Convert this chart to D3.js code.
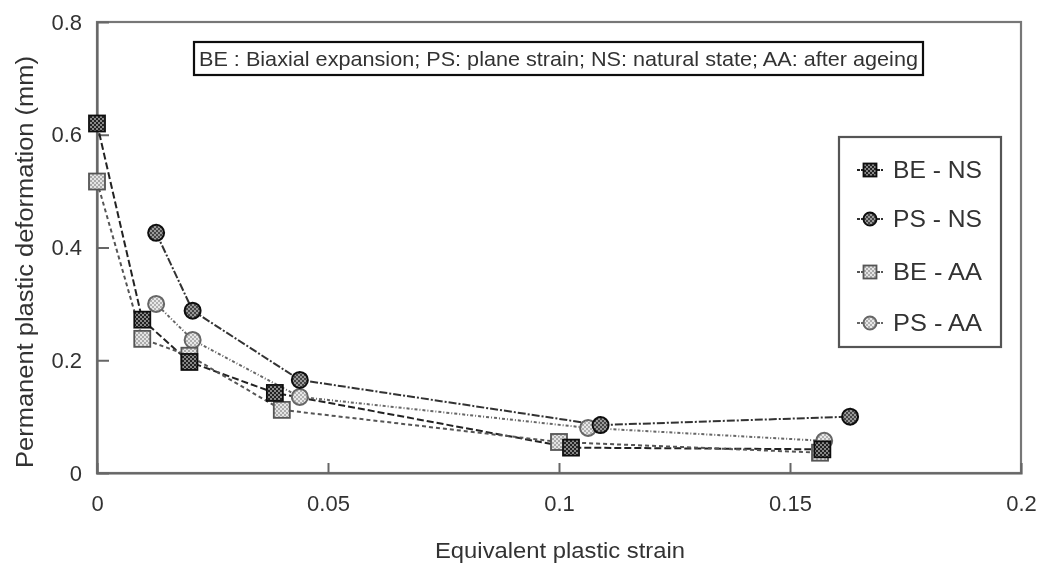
<!DOCTYPE html>
<html>
<head>
<meta charset="utf-8">
<script src="https://cdn.jsdelivr.net/npm/d3@7"></script>
<style>
  html, body { margin: 0; padding: 0; background: #fff; }
  svg { display: block; font-family: "Liberation Sans", Arial, sans-serif; }
</style>
</head>
<body>
<svg id="chart" width="1038" height="566"></svg>
<script>
// Equivalent plastic strain (x) and permanent plastic deformation in mm (y)
const seriesNames = ["BE - NS", "PS - NS", "BE - AA", "PS - AA"];

const beNsX = [0, 0.0098, 0.0200, 0.0385, 0.1026, 0.1570];
const beNsY = [0.620, 0.272, 0.197, 0.142, 0.045, 0.042];

const psNsX = [0.0128, 0.0207, 0.0439, 0.1090, 0.1630];
const psNsY = [0.426, 0.288, 0.165, 0.085, 0.100];

const beAaX = [0, 0.0098, 0.0200, 0.0400, 0.1000, 0.1565];
const beAaY = [0.517, 0.238, 0.208, 0.112, 0.055, 0.036];

const psAaX = [0.0128, 0.0207, 0.0439, 0.1063, 0.1574];
const psAaY = [0.300, 0.236, 0.135, 0.080, 0.057];

const xTicks = [0, 0.05, 0.1, 0.15, 0.2];
const xTickLabels = ["0", "0.05", "0.1", "0.15", "0.2"];
const yTicks = [0, 0.2, 0.4, 0.6, 0.8];
const yTickLabels = ["0", "0.2", "0.4", "0.6", "0.8"];

const noteText = "BE : Biaxial expansion; PS: plane strain; NS: natural state; AA: after ageing";
const xTitle = "Equivalent plastic strain";
const yTitle = "Permanent plastic deformation (mm)";

const svg = d3.select("#chart");
const L = 97, R = 1021, T = 22, B = 473;

const x = d3.scaleLinear().domain([0, 0.2]).range([L, R]);
const y = d3.scaleLinear().domain([0, 0.8]).range([B, T]);

// Softening filter for a scanned-print look
const defs = svg.append("defs");
defs.append("filter").attr("id", "soft")
  .append("feGaussianBlur").attr("stdDeviation", 0.5);

// checker patterns used inside the markers
function checker(id, bg, fg) {
  const p = defs.append("pattern").attr("id", id)
    .attr("width", 4).attr("height", 4).attr("patternUnits", "userSpaceOnUse");
  p.append("rect").attr("width", 4).attr("height", 4).attr("fill", bg);
  p.append("rect").attr("width", 2).attr("height", 2).attr("fill", fg);
  p.append("rect").attr("x", 2).attr("y", 2).attr("width", 2).attr("height", 2).attr("fill", fg);
}
checker("pDark", "#222", "#888");
checker("pLight", "#aaa", "#e4e4e4");
checker("pMid", "#444", "#999");
checker("pPale", "#b0b0b0", "#e8e8e8");

const g = svg.append("g").attr("filter", "url(#soft)");

// Plot frame
g.append("rect").attr("x", L).attr("y", T).attr("width", R - L).attr("height", B - T)
  .attr("fill", "none").attr("stroke", "#777").attr("stroke-width", 2.2);

// Axes with inward ticks
const yAxis = d3.axisLeft(y).tickValues(yTicks).tickSize(-12).tickFormat((d, i) => yTickLabels[i]).tickPadding(26);
const xAxis = d3.axisBottom(x).tickValues(xTicks).tickSize(-10).tickFormat((d, i) => xTickLabels[i]).tickPadding(34);

const ya = g.append("g").attr("transform", `translate(${L},0)`).call(yAxis);
const xa = g.append("g").attr("transform", `translate(0,${B})`).call(xAxis);
[ya, xa].forEach(a => {
  a.select(".domain").attr("stroke", "#666").attr("stroke-width", 2.2);
  a.selectAll(".tick line").attr("stroke", "#666").attr("stroke-width", 2);
  a.selectAll(".tick text").attr("fill", "#333").attr("font-size", 22)
    .attr("font-family", "'Liberation Sans', Arial, sans-serif");
});
ya.selectAll(".tick text").attr("x", -15);
xa.selectAll(".tick text").attr("dy", "0.2em");
// outermost ticks coincide with the frame
ya.selectAll(".tick").filter(d => d === 0 || d === 0.8).select("line").remove();
xa.selectAll(".tick").filter(d => d === 0 || d === 0.2).select("line").remove();

// Axis titles
g.append("text").attr("x", 560).attr("y", 558).attr("text-anchor", "middle")
  .attr("font-size", 22).attr("fill", "#333").text(xTitle)
  .attr("textLength", 250).attr("lengthAdjust", "spacingAndGlyphs");
g.append("text").attr("transform", `translate(33,262) rotate(-90)`)
  .attr("text-anchor", "middle").attr("font-size", 23).attr("fill", "#333").text(yTitle)
  .attr("textLength", 412).attr("lengthAdjust", "spacingAndGlyphs");

// Note box
g.append("rect").attr("x", 194).attr("y", 42).attr("width", 729).attr("height", 33)
  .attr("fill", "#fff").attr("stroke", "#111").attr("stroke-width", 2.2);
g.append("text").attr("x", 199).attr("y", 66).attr("font-size", 21).attr("fill", "#333")
  .text(noteText).attr("textLength", 719).attr("lengthAdjust", "spacingAndGlyphs");

// Series definitions
const series = [
  { name: seriesNames[0], xs: beNsX, ys: beNsY, shape: "square", fill: "url(#pDark)", stroke: "#111", line: "#222", dash: "7,3" },
  { name: seriesNames[1], xs: psNsX, ys: psNsY, shape: "circle", fill: "url(#pMid)", stroke: "#111", line: "#333", dash: "8,2,2,2" },
  { name: seriesNames[2], xs: beAaX, ys: beAaY, shape: "square", fill: "url(#pLight)", stroke: "#555", line: "#555", dash: "4,3" },
  { name: seriesNames[3], xs: psAaX, ys: psAaY, shape: "circle", fill: "url(#pPale)", stroke: "#666", line: "#666", dash: "3,2,1,2" }
];

const line = d3.line().x(d => x(d[0])).y(d => y(d[1]));

function drawMarker(sel, s, cx, cy, size) {
  if (s.shape === "square") {
    sel.append("rect").attr("x", cx - size / 2).attr("y", cy - size / 2)
      .attr("width", size).attr("height", size)
      .attr("fill", s.fill).attr("stroke", s.stroke).attr("stroke-width", 1.8);
  } else {
    sel.append("circle").attr("cx", cx).attr("cy", cy).attr("r", size / 2)
      .attr("fill", s.fill).attr("stroke", s.stroke).attr("stroke-width", 2);
  }
}

series.forEach(s => {
  const pts = s.xs.map((v, i) => [v, s.ys[i]]);
  g.append("path").datum(pts).attr("d", line)
    .attr("fill", "none").attr("stroke", s.line).attr("stroke-width", 2)
    .attr("stroke-dasharray", s.dash);
});
series.slice().reverse().forEach(s => {
  s.xs.forEach((v, i) => drawMarker(g, s, x(v), y(s.ys[i]), 16));
});

// Legend
const lg = g.append("g");
lg.append("rect").attr("x", 839).attr("y", 137).attr("width", 162).attr("height", 210)
  .attr("fill", "#fff").attr("stroke", "#555").attr("stroke-width", 2.2);
const legendY = [170, 219, 272, 323];
series.forEach((s, i) => {
  const ly = legendY[i];
  lg.append("line").attr("x1", 857).attr("x2", 883).attr("y1", ly).attr("y2", ly)
    .attr("stroke", s.line).attr("stroke-width", 2).attr("stroke-dasharray", "3,1");
  drawMarker(lg, s, 870, ly, 13);
  lg.append("text").attr("x", 893).attr("y", ly + 8).attr("font-size", 24).attr("fill", "#333")
    .text(s.name).attr("textLength", 89).attr("lengthAdjust", "spacingAndGlyphs");
});
</script>
</body>
</html>
